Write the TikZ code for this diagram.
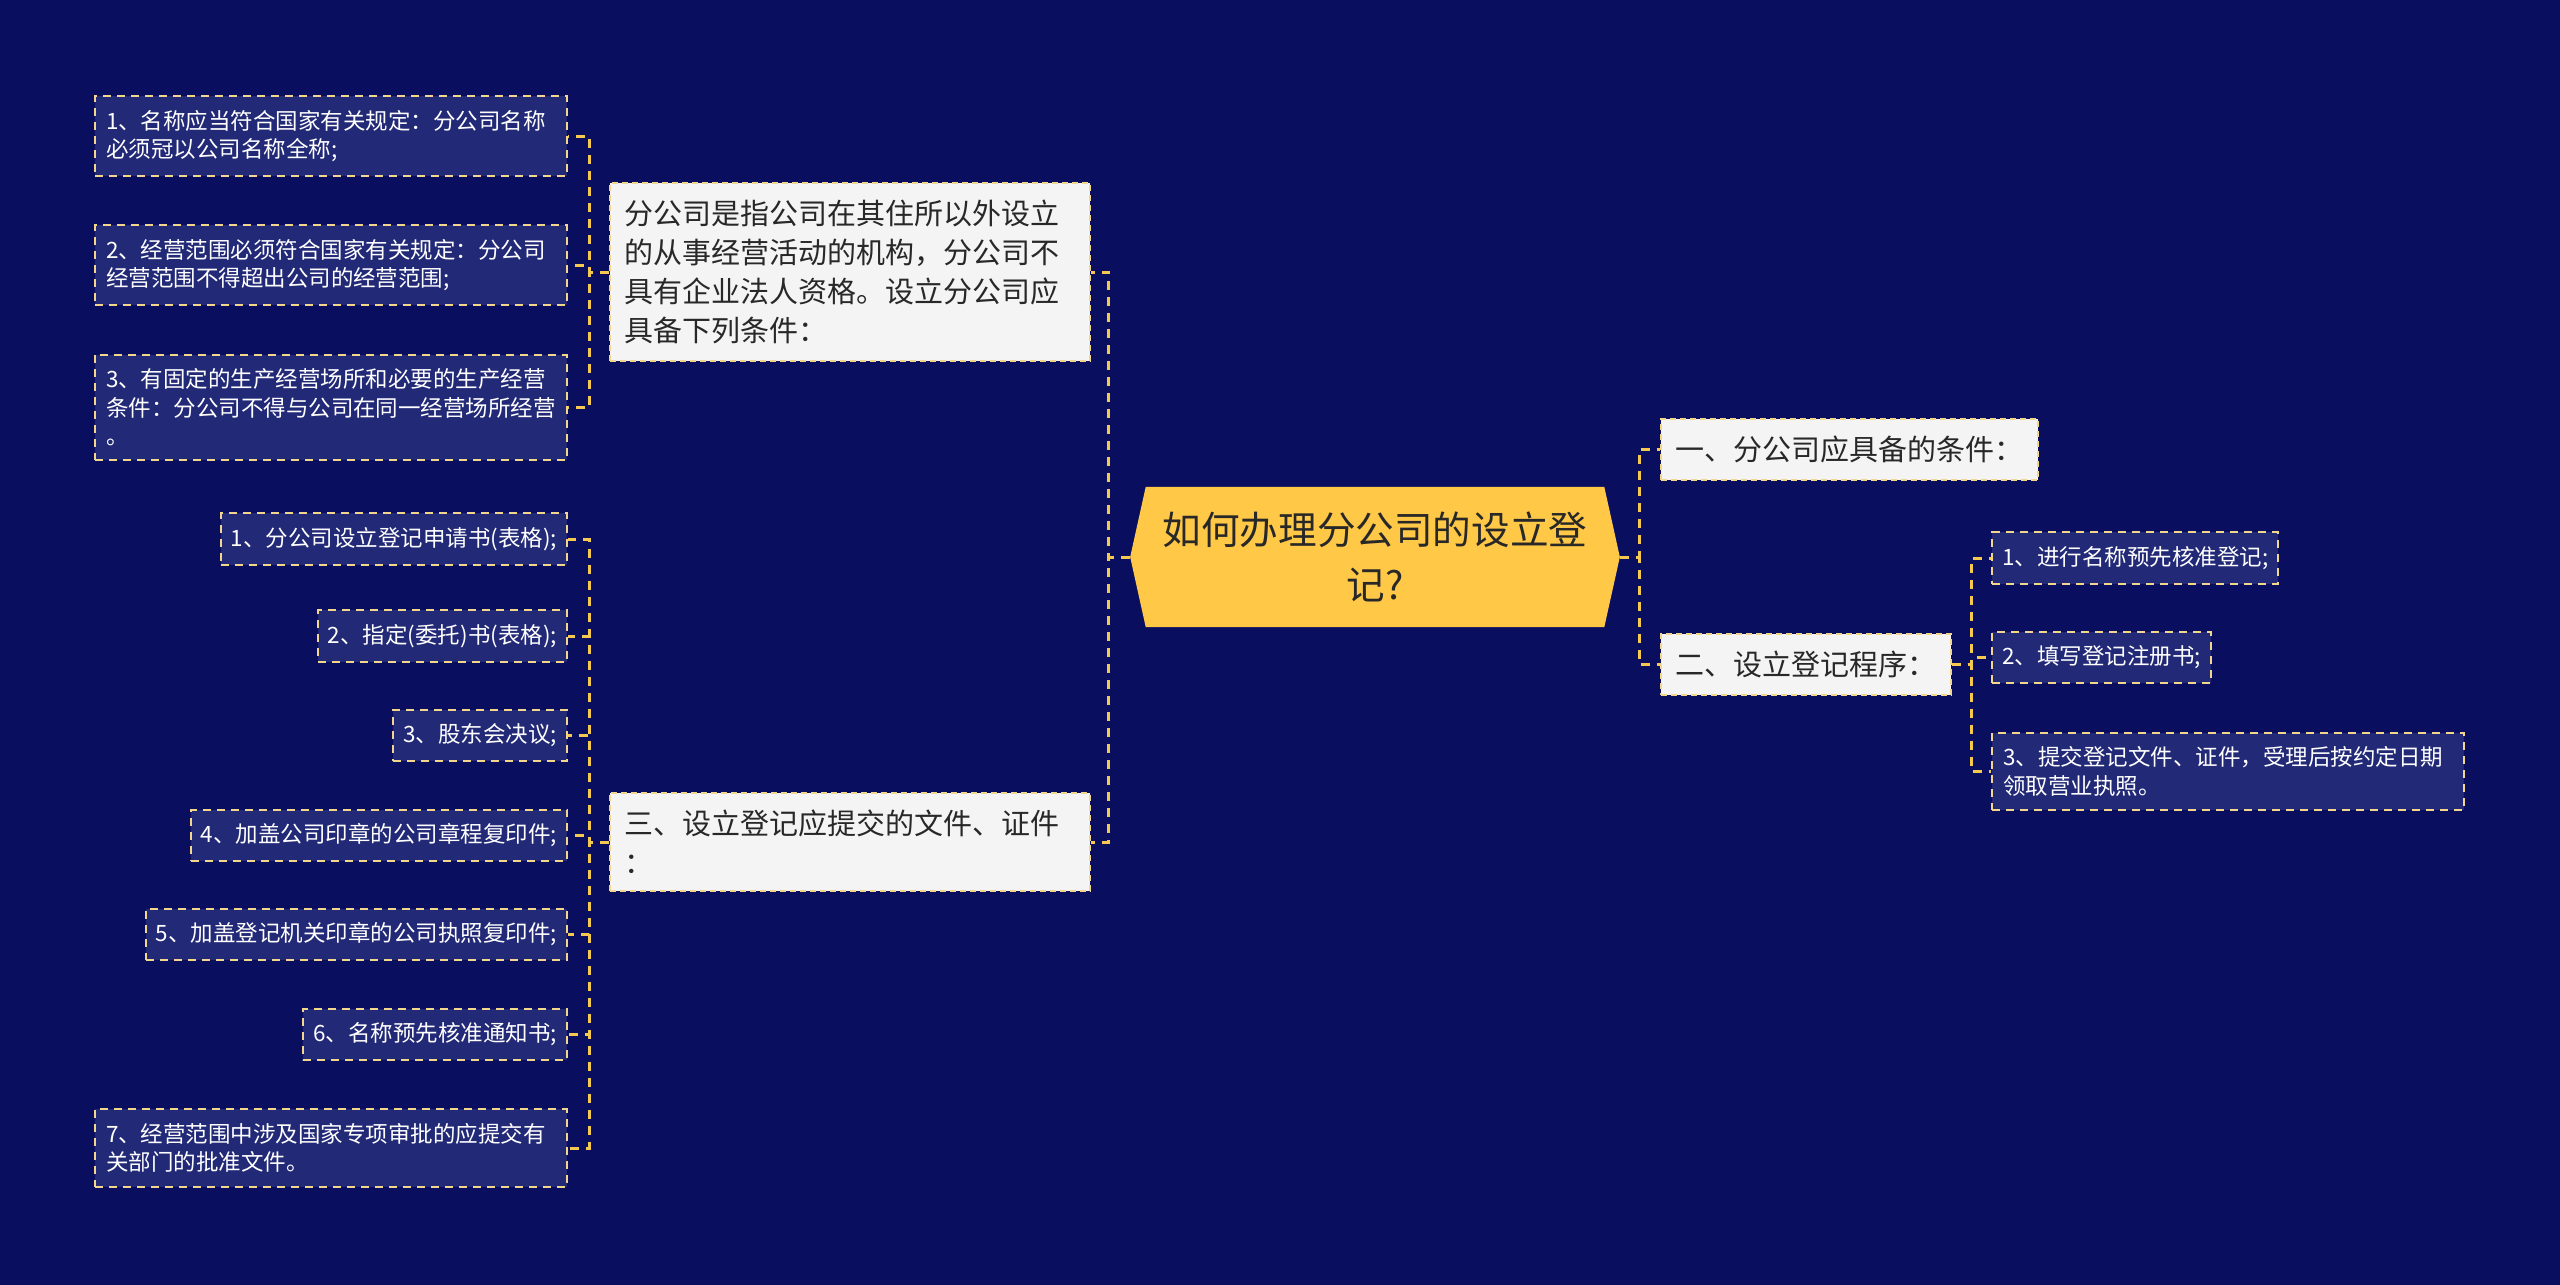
\documentclass[tikz,border=0pt]{standalone}
\usepackage{fontspec}
\setmainfont{Noto Sans CJK SC}
\usetikzlibrary{shapes.symbols,positioning}
\definecolor{navybg}{RGB}{10,14,94}
\definecolor{leaffill}{RGB}{34,41,118}
\definecolor{dashcream}{RGB}{242,214,140}
\definecolor{linkyel}{RGB}{245,200,80}
\definecolor{rootyel}{RGB}{255,200,70}
\definecolor{boxgray}{RGB}{244,244,244}
\definecolor{txtdark}{RGB}{40,40,40}
\tikzset{
  rootbox/.style={signal, signal to=west and east, signal pointer angle=155,
              fill=rootyel, text=txtdark, align=center, inner xsep=17pt, inner ysep=25pt,
              font=\fontsize{38.6}{55}\selectfont},
  topic/.style={draw=dashcream, line width=1.5pt, dash pattern=on 6pt off 4pt,
              fill=boxgray, text=txtdark, align=left, inner xsep=14.5pt, inner ysep=17pt,
              font=\fontsize{29}{39}\selectfont},
  leaf/.style={draw=dashcream, line width=2pt, dash pattern=on 8pt off 6pt,
              fill=leaffill, text=white, align=left, inner xsep=10pt, inner ysep=14pt,
              font=\fontsize{22.5}{28.5}\selectfont},
  leafw/.style={leaf, text width=450pt, inner xsep=11pt},
  link/.style={linkyel, line width=3pt, dash pattern=on 9pt off 7pt},
}
\begin{document}
\begin{tikzpicture}[x=1pt, y=-1pt]
  \fill[navybg] (0,0) rectangle (2560,1285);
  \useasboundingbox (0,0) rectangle (2560,1285);
  % centre
  \node[rootbox] (root) at (1375,557) {如何办理分公司的设立登\\记?};
  % left branches
  \node[topic, text width=451pt, anchor=west] (cond) at (609,272)
       {分公司是指公司在其住所以外设立\\的从事经营活动的机构，分公司不\\具有企业法人资格。设立分公司应\\具备下列条件：};
  \node[topic, text width=451pt, anchor=west] (docs) at (609,842)
       {三、设立登记应提交的文件、证件\\：};
  \node[leafw, anchor=east] (c1) at (568,136) {1、名称应当符合国家有关规定：分公司名称\\必须冠以公司名称全称;};
  \node[leafw, anchor=east] (c2) at (568,265) {2、经营范围必须符合国家有关规定：分公司\\经营范围不得超出公司的经营范围;};
  \node[leafw, anchor=east] (c3) at (568,407.5) {3、有固定的生产经营场所和必要的生产经营\\条件：分公司不得与公司在同一经营场所经营\\。};
  \node[leaf, anchor=east] (d1) at (568,539) {1、分公司设立登记申请书(表格);};
  \node[leaf, anchor=east] (d2) at (568,636) {2、指定(委托)书(表格);};
  \node[leaf, anchor=east] (d3) at (568,735.5) {3、股东会决议;};
  \node[leaf, anchor=east] (d4) at (568,835.5) {4、加盖公司印章的公司章程复印件;};
  \node[leaf, anchor=east] (d5) at (568,934.5) {5、加盖登记机关印章的公司执照复印件;};
  \node[leaf, anchor=east] (d6) at (568,1034.5) {6、名称预先核准通知书;};
  \node[leafw, anchor=east] (d7) at (568,1148) {7、经营范围中涉及国家专项审批的应提交有\\关部门的批准文件。};
  % right branches
  \node[topic, anchor=west] (need) at (1660,449.5) {一、分公司应具备的条件：};
  \node[topic, anchor=west] (proc) at (1660,664.5) {二、设立登记程序：};
  \node[leaf, anchor=west] (p1) at (1991,558) {1、进行名称预先核准登记;};
  \node[leaf, anchor=west] (p2) at (1991,657.5) {2、填写登记注册书;};
  \node[leafw, anchor=west] (p3) at (1991,771.5) {3、提交登记文件、证件，受理后按约定日期\\领取营业执照。};
  % connectors
  \foreach \n in {cond,docs} \draw[link] (root.west) -- ++(-21,0) |- (\n.east);
  \foreach \n in {need,proc} \draw[link] (root.east) -- ++(19,0) |- (\n.west);
  \foreach \n in {c1,c2,c3} \draw[link] (cond.west) -- ++(-20,0) |- (\n.east);
  \foreach \n in {d1,d2,d3,d4,d5,d6,d7} \draw[link] (docs.west) -- ++(-20,0) |- (\n.east);
  \foreach \n in {p1,p2,p3} \draw[link] (proc.east) -- ++(20,0) |- (\n.west);
\end{tikzpicture}
\end{document}
